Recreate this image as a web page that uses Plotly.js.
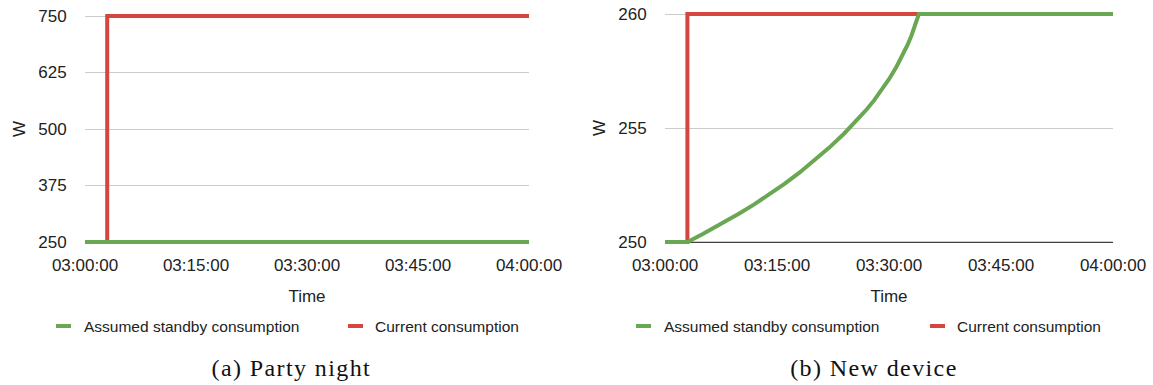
<!DOCTYPE html>
<html>
<head>
<meta charset="utf-8">
<script src="https://cdn.plot.ly/plotly-3.0.1.min.js"></script>
<style>
  html, body { margin: 0; padding: 0; background: #fff; }
  #wrap { position: relative; width: 1153px; height: 385px; overflow: hidden; }
  #a { position: absolute; left: 0; top: 0; width: 576px; height: 385px; }
  #b { position: absolute; left: 576px; top: 0; width: 577px; height: 385px; }
  .annotation[data-index="0"] .annotation-text { letter-spacing: 1.4px; }
</style>
</head>
<body>
<div id="wrap"><div id="a"></div><div id="b"></div></div>
<script>
// ---- data ----
const seriesNames = ['Assumed standby consumption', 'Current consumption'];
const timeTickMinutes = [0, 15, 30, 45, 60];
const timeTickLabels = ['03:00:00', '03:15:00', '03:30:00', '03:45:00', '04:00:00'];

// (a) Party night
const partyCurrentMinutes = [0, 3, 60];
const partyCurrent = [250, 750, 750];
const partyStandbyMinutes = [0, 60];
const partyStandby = [250, 250];
const partyYTicks = [250, 375, 500, 625, 750];

// (b) New device
const deviceCurrentMinutes = [0, 3, 60];
const deviceCurrent = [250, 260, 260];
const deviceStandbyMinutes = [0, 3, 5, 8, 10, 12, 14, 16, 18, 20, 22, 24, 26, 27, 28, 29, 30, 31, 32, 32.5, 33, 33.5, 34, 60];
const deviceStandby = [250, 250, 250.34, 250.88, 251.26, 251.66, 252.09, 252.55, 253.04, 253.57, 254.14, 254.76, 255.44, 255.81, 256.21, 256.65, 257.14, 257.69, 258.31, 258.66, 259.05, 259.5, 260, 260];
const deviceYTicks = [250, 255, 260];

const captions = ['(a) Party night', '(b) New device'];

// ---- helpers ----
function t(m) {
  const h = 3 + Math.floor(m / 60);
  const mm = Math.floor(m % 60);
  const ss = Math.round((m - Math.floor(m)) * 60);
  const p = n => String(n).padStart(2, '0');
  return '2024-01-01 ' + p(h) + ':' + p(mm) + ':' + p(ss);
}
const GREEN = '#6aa753';
const RED = '#d5463e';
const TXT = '#222';
const SANS = 'Liberation Sans, Arial, sans-serif';

function makeFig(cfg) {
  const pw = cfg.w - cfg.ml - cfg.mr;       // plot width px
  const ph = 385 - cfg.mt - 140;            // plot height px
  const px = v => v / pw;                   // px offset from plot left -> paper x
  const py = yPix => -(yPix - (385 - 140)) / ph; // page y px -> paper y
  const legY = py(326);

  const traces = [
    { x: cfg.curMin.map(t), y: cfg.cur, type: 'scatter', mode: 'lines', name: seriesNames[1],
      line: { color: RED, width: 4, shape: 'hv' }, hoverinfo: 'skip' },
    { x: cfg.sbMin.map(t), y: cfg.sb, type: 'scatter', mode: 'lines', name: seriesNames[0],
      line: { color: GREEN, width: 4 }, hoverinfo: 'skip' }
  ];
  const layout = {
    width: cfg.w, height: 385,
    margin: { l: cfg.ml, r: cfg.mr, t: cfg.mt, b: 140, pad: 0 },
    paper_bgcolor: '#fff', plot_bgcolor: '#fff',
    font: { family: SANS, color: TXT, size: 17 },
    showlegend: false,
    xaxis: {
      type: 'date', range: [t(0), t(60)],
      tickvals: timeTickMinutes.map(t), ticktext: timeTickLabels,
      showgrid: false, zeroline: false, showline: false,
      ticks: 'outside', ticklen: 5, tickcolor: 'rgba(0,0,0,0)',
      tickfont: { size: 17, color: TXT },
      title: { text: 'Time', font: { size: 17, color: TXT }, standoff: 15 },
      fixedrange: true
    },
    yaxis: {
      range: cfg.yr, tickvals: cfg.yt, ticktext: cfg.yt.map(String),
      showgrid: true, gridcolor: '#cccccc', gridwidth: 1, zeroline: false, showline: false,
      ticks: 'outside', ticklen: 14, tickcolor: 'rgba(0,0,0,0)',
      tickfont: { size: 17, color: TXT },
      title: { text: 'W', font: { size: 17, color: TXT }, standoff: 8 },
      fixedrange: true
    },
    shapes: [
      { type: 'line', xref: 'paper', x0: 0, x1: 1, yref: 'y', y0: cfg.yt[0], y1: cfg.yt[0],
        line: { color: '#000', width: 1.3 }, layer: 'between' },
      { type: 'line', xref: 'paper', yref: 'paper', x0: px(-29), x1: px(-14), y0: legY, y1: legY,
        line: { color: GREEN, width: 4 } },
      { type: 'line', xref: 'paper', yref: 'paper', x0: px(cfg.redSw), x1: px(cfg.redSw + 15), y0: legY, y1: legY,
        line: { color: RED, width: 4 } }
    ],
    annotations: [
      { text: cfg.caption, xref: 'paper', yref: 'paper', x: cfg.capX, y: py(368),
        xanchor: 'center', yanchor: 'middle', showarrow: false,
        font: { family: 'Liberation Serif, Times New Roman, serif', size: 24, color: '#111' } },
      { text: seriesNames[0], xref: 'paper', yref: 'paper', x: px(-3.5), y: legY,
        xanchor: 'left', yanchor: 'middle', showarrow: false,
        font: { family: SANS, size: 15.5, color: TXT } },
      { text: seriesNames[1], xref: 'paper', yref: 'paper', x: px(cfg.redSw + 25), y: legY,
        xanchor: 'left', yanchor: 'middle', showarrow: false,
        font: { family: SANS, size: 15.5, color: TXT } }
    ]
  };
  return { traces, layout };
}

const figA = makeFig({
  curMin: partyCurrentMinutes, cur: partyCurrent, sbMin: partyStandbyMinutes, sb: partyStandby,
  yt: partyYTicks, yr: [243.363, 756.637], w: 576, ml: 85, mr: 47, mt: 13,
  redSw: 263, caption: captions[0], capX: 0.465
});
const figB = makeFig({
  curMin: deviceCurrentMinutes, cur: deviceCurrent, sbMin: deviceStandbyMinutes, sb: deviceStandby,
  yt: deviceYTicks, yr: [249.868, 260.132], w: 577, ml: 89, mr: 40, mt: 11,
  redSw: 265, caption: captions[1], capX: 0.4665
});
const conf = { staticPlot: true, displayModeBar: false };
Plotly.newPlot('a', figA.traces, figA.layout, conf);
Plotly.newPlot('b', figB.traces, figB.layout, conf);
</script>
</body>
</html>
